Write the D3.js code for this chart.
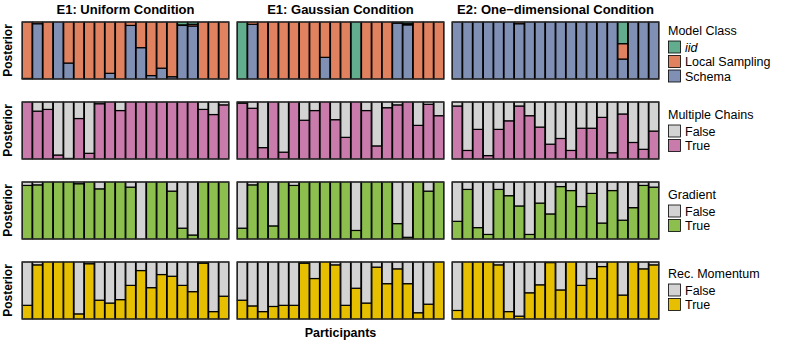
<!DOCTYPE html>
<html>
<head>
<meta charset="utf-8">
<script src="https://cdn.jsdelivr.net/npm/d3@7"></script>
<style>
  body { margin: 0; background: #fff; }
  text { font-family: "Liberation Sans", Arial, sans-serif; fill: #000; }
</style>
</head>
<body>
<div id="chart"></div>
<script>
// ---- data ----
var conditions = ["E1: Uniform Condition", "E1: Gaussian Condition", "E2: One\u2212dimensional Condition"];
var participants = ["1","2","3","4","5","6","7","8","9","10","11","12","13","14","15","16","17","18","19","20"];

// model class posterior per participant: [iid, local sampling, schema]
var modelUniform = [
  [0,0.99,0.01],[0,0.03,0.97],[0,1,0],[0,0,1],[0,0.72,0.28],[0,1,0],[0,1,0],[0,1,0],[0,0.9,0.1],[0,1,0],
  [0,0.06,0.94],[0,0.45,0.55],[0,0.94,0.06],[0,0.81,0.19],[0,0.96,0.04],[0.05,0.01,0.94],[0.04,0.03,0.93],[0,1,0],[0,1,0],[0,1,0]
];
var modelGaussian = [
  [1,0,0],[0,0.04,0.96],[0,1,0],[0,1,0],[0,1,0],[0,1,0],[0,1,0],[0,1,0],[0,0.62,0.38],[0,1,0],
  [0,1,0],[1,0,0],[0,1,0],[0,1,0],[0,1,0],[0,0.02,0.98],[0.03,0.02,0.95],[0,1,0],[0,1,0],[0,1,0]
];
var modelOneDim = [
  [0,0,1],[0,0,1],[0,0,1],[0,0,1],[0,0,1],[0,0,1],[0,0.03,0.97],[0,0,1],[0,0,1],[0,0,1],
  [0,0,1],[0,0,1],[0,0,1],[0,0,1],[0,0,1],[0,0,1],[0.38,0.27,0.35],[0,0,1],[0,0,1],[0,0,1]
];

// posterior probability of "True" per participant
var chainsUniform  = [1,0.84,0.87,0.07,0.01,0.71,0.10,0.97,1,0.85,1,1,1,1,1,1,1,0.87,0.78,0.95];
var chainsGaussian = [0.98,0.89,0.20,1,0.12,1,0.68,0.85,1,0.69,0.38,1,0.85,0.23,0.90,0.95,1,0.59,0.96,0.76];
var chainsOneDim   = [0.93,0.15,0.52,0.06,0.52,0.67,0.93,0.76,0.56,0.26,0.36,0.15,0.54,0.54,0.73,0.11,0.79,0.29,0.17,0.49];

var gradientUniform  = [0.94,0.95,1,1,1,0.97,1,0.88,1,1,0.91,0,1,1,0.84,0.19,0.07,1,1,1];
var gradientGaussian = [0.19,0.95,1,0.23,1,0.94,1,1,1,1,1,0.15,1,1,1,0.27,0.03,1,0.84,1];
var gradientOneDim   = [0.31,0.87,0.20,0.08,0.87,0.76,0.58,0.08,0.63,0.44,0.92,0.85,0.57,0.80,0.28,0.85,0.33,0.55,0.94,0.91];

var momentumUniform  = [0.24,0.95,1,1,1,0.09,0.97,0.33,0.28,0.34,0.59,0.85,0.55,0.78,0.75,0.59,0.48,0.98,0.13,0.40];
var momentumGaussian = [0.33,0.23,0.13,0.22,0.24,0.24,0.98,0.71,1,0.95,0.24,0.54,0.28,0.91,0.62,0.88,0.62,0.11,0.26,1];
var momentumOneDim   = [0.15,1,1,1,0.95,0.13,0.05,0.46,0.60,0.99,0.51,1,0.59,0.71,0.92,1,0.42,1,0.88,0.95];

var modelKeys = ["iid", "Local Sampling", "Schema"];
var binaryKeys = ["False", "True"];

// ---- layout ----
var width = 800, height = 344;
var panelLeft = [22, 237, 452], panelW = 207;
var rowTop = [22, 102, 182, 262], panelH = 57;
var legendTitleY = [30, 114, 194, 273];   // vertical centre of each legend title

var svg = d3.select("#chart").append("svg")
    .attr("width", width)
    .attr("height", height);

var x = d3.scaleBand().domain(participants).range([0, panelW]).paddingInner(0.06).paddingOuter(0.03);
var y = d3.scaleLinear().domain([0, 1]).range([panelH, 0]);

var rows = [
  { title: "Model Class", keys: modelKeys,
    colors: ["#61ad8e", "#e0825f", "#8090b5"],
    data: [modelUniform, modelGaussian, modelOneDim] },
  { title: "Multiple Chains", keys: binaryKeys,
    colors: ["#d3d3d3", "#c97bac"],
    data: [chainsUniform, chainsGaussian, chainsOneDim] },
  { title: "Gradient", keys: binaryKeys,
    colors: ["#d3d3d3", "#8cbf4d"],
    data: [gradientUniform, gradientGaussian, gradientOneDim] },
  { title: "Rec. Momentum", keys: binaryKeys,
    colors: ["#d3d3d3", "#e6c000"],
    data: [momentumUniform, momentumGaussian, momentumOneDim] }
];

// turn one panel's values into rows keyed by category
function toRecords(row, values) {
  return values.map(function(v, i) {
    var rec = { p: participants[i] };
    if (row.keys === modelKeys) {
      rec["iid"] = v[0]; rec["Local Sampling"] = v[1]; rec["Schema"] = v[2];
    } else {
      rec["True"] = v; rec["False"] = 1 - v;
    }
    return rec;
  });
}

rows.forEach(function(row, r) {
  var color = d3.scaleOrdinal().domain(row.keys).range(row.colors);
  // bottom of the stack is the last key
  var stack = d3.stack().keys(row.keys.slice().reverse());

  row.data.forEach(function(values, c) {
    var g = svg.append("g")
        .attr("transform", "translate(" + panelLeft[c] + "," + rowTop[r] + ")");

    var series = stack(toRecords(row, values));
    g.selectAll("g.layer")
        .data(series)
      .enter().append("g")
        .attr("class", "layer")
        .attr("fill", function(d) { return color(d.key); })
      .selectAll("rect")
        .data(function(d) { return d; })
      .enter().append("rect")
        .attr("x", function(d) { return x(d.data.p); })
        .attr("width", x.bandwidth())
        .attr("y", function(d) { return y(d[1]); })
        .attr("height", function(d) { return y(d[0]) - y(d[1]); })
        .attr("stroke", "#000")
        .attr("stroke-width", 1.2);

    g.append("rect")
        .attr("width", panelW)
        .attr("height", panelH)
        .attr("fill", "none")
        .attr("stroke", "#333")
        .attr("stroke-width", 1.1);

    if (c === 0) {
      svg.append("text")
          .attr("transform", "translate(12," + (rowTop[r] + panelH / 2) + ") rotate(-90)")
          .attr("text-anchor", "middle")
          .attr("font-size", 12)
          .attr("font-weight", "bold")
          .text("Posterior");
    }
  });

  // legend
  var lg = svg.append("g").attr("transform", "translate(668," + legendTitleY[r] + ")");
  lg.append("text")
      .attr("y", 4.5)
      .attr("font-size", 12.5)
      .text(row.title);
  row.keys.forEach(function(k, i) {
    var cy = 17 + i * 14.5;
    lg.append("rect")
        .attr("x", 0.5)
        .attr("y", cy - 6)
        .attr("width", 12)
        .attr("height", 12)
        .attr("fill", color(k))
        .attr("stroke", "#000")
        .attr("stroke-width", 0.8);
    lg.append("text")
        .attr("x", 17)
        .attr("y", cy + 4.5)
        .attr("font-size", 12.5)
        .attr("font-style", k === "iid" ? "italic" : null)
        .text(k);
  });
});

// column headers
conditions.forEach(function(t, c) {
  svg.append("text")
      .attr("x", panelLeft[c] + panelW / 2)
      .attr("y", 13.5)
      .attr("text-anchor", "middle")
      .attr("font-size", 13)
      .attr("font-weight", "bold")
      .text(t);
});

svg.append("text")
    .attr("x", (panelLeft[0] + panelLeft[2] + panelW) / 2)
    .attr("y", 337)
    .attr("text-anchor", "middle")
    .attr("font-size", 12.5)
    .attr("font-weight", "bold")
    .text("Participants");
</script>
</body>
</html>
